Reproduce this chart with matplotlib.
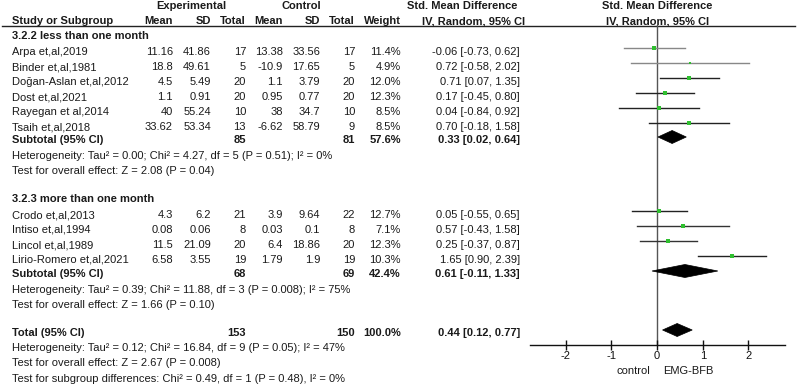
import matplotlib
matplotlib.use("Agg")
import matplotlib.pyplot as plt
from matplotlib.patches import Polygon

plt.rcParams['font.family'] = ['Liberation Sans', 'DejaVu Sans']
FS = 8.0

# ---------------- data ----------------
group1_label = "3.2.2 less than one month"
group1_studies = ["Arpa et,al,2019", "Binder et,al,1981", "Doğan-Aslan et,al,2012",
                  "Dost et,al,2021", "Rayegan et al,2014", "Tsaih et,al,2018"]
group1_exp_mean = [11.16, 18.8, 4.5, 1.1, 40, 33.62]
group1_exp_sd = [41.86, 49.61, 5.49, 0.91, 55.24, 53.34]
group1_exp_n = [17, 5, 20, 20, 10, 13]
group1_ctl_mean = [13.38, -10.9, 1.1, 0.95, 38, -6.62]
group1_ctl_sd = [33.56, 17.65, 3.79, 0.77, 34.7, 58.79]
group1_ctl_n = [17, 5, 20, 20, 10, 9]
group1_weight = [11.4, 4.9, 12.0, 12.3, 8.5, 8.5]
group1_smd = [-0.06, 0.72, 0.71, 0.17, 0.04, 0.70]
group1_lo = [-0.73, -0.58, 0.07, -0.45, -0.84, -0.18]
group1_hi = [0.62, 2.02, 1.35, 0.80, 0.92, 1.58]
group1_sub = dict(exp_n=85, ctl_n=81, weight=57.6, smd=0.33, lo=0.02, hi=0.64)
group1_het = "Heterogeneity: Tau² = 0.00; Chi² = 4.27, df = 5 (P = 0.51); I² = 0%"
group1_test = "Test for overall effect: Z = 2.08 (P = 0.04)"

group2_label = "3.2.3 more than one month"
group2_studies = ["Crodo et,al,2013", "Intiso et,al,1994", "Lincol et,al,1989",
                  "Lirio-Romero et,al,2021"]
group2_exp_mean = [4.3, 0.08, 11.5, 6.58]
group2_exp_sd = [6.2, 0.06, 21.09, 3.55]
group2_exp_n = [21, 8, 20, 19]
group2_ctl_mean = [3.9, 0.03, 6.4, 1.79]
group2_ctl_sd = [9.64, 0.1, 18.86, 1.9]
group2_ctl_n = [22, 8, 20, 19]
group2_weight = [12.7, 7.1, 12.3, 10.3]
group2_smd = [0.05, 0.57, 0.25, 1.65]
group2_lo = [-0.55, -0.43, -0.37, 0.90]
group2_hi = [0.65, 1.58, 0.87, 2.39]
group2_sub = dict(exp_n=68, ctl_n=69, weight=42.4, smd=0.61, lo=-0.11, hi=1.33)
group2_het = "Heterogeneity: Tau² = 0.39; Chi² = 11.88, df = 3 (P = 0.008); I² = 75%"
group2_test = "Test for overall effect: Z = 1.66 (P = 0.10)"

total = dict(exp_n=153, ctl_n=150, weight=100.0, smd=0.44, lo=0.12, hi=0.77)
total_het = "Heterogeneity: Tau² = 0.12; Chi² = 16.84, df = 9 (P = 0.05); I² = 47%"
total_test = "Test for overall effect: Z = 2.67 (P = 0.008)"
subgroup_test = "Test for subgroup differences: Chi² = 0.49, df = 1 (P = 0.48), I² = 0%"

x_ticks = [-2, -1, 0, 1, 2]
favours = ["control", "EMG-BFB"]

# ---------------- layout ----------------
W, H = 797, 387
fig = plt.figure(figsize=(W / 100, H / 100), dpi=100)
ax = fig.add_axes([0, 0, 1, 1])
ax.set_xlim(0, W)
ax.set_ylim(H, 0)
ax.axis('off')

X_STUDY = 12
X_EM, X_ESD, X_EN = 173, 211, 246
X_CM, X_CSD, X_CN = 283, 320, 355
X_W = 401
X_CI = 520

def t(x, y, s, ha='left', bold=False):
    ax.text(x, y, s, ha=ha, va='center', fontsize=FS,
            fontweight='bold' if bold else 'normal', color='#1a1a1a')

# headers
t(191, 6, "Experimental", ha='center', bold=True)
t(301, 6, "Control", ha='center', bold=True)
t(462, 6, "Std. Mean Difference", ha='center', bold=True)
t(657, 6, "Std. Mean Difference", ha='center', bold=True)
hy = 21
t(X_STUDY, hy, "Study or Subgroup", bold=True)
t(X_EM, hy, "Mean", ha='right', bold=True)
t(X_ESD, hy, "SD", ha='right', bold=True)
t(X_EN, hy, "Total", ha='right', bold=True)
t(X_CM, hy, "Mean", ha='right', bold=True)
t(X_CSD, hy, "SD", ha='right', bold=True)
t(X_CN, hy, "Total", ha='right', bold=True)
t(X_W, hy, "Weight", ha='right', bold=True)
t(X_CI + 5, hy, "IV, Random, 95% CI", ha='right', bold=True)
t(658, hy, "IV, Random, 95% CI", ha='center', bold=True)
ax.plot([2, 795], [25.5, 25.5], color='#222222', lw=1.0)

def ci_str(m, lo, hi):
    return f"{m:.2f} [{lo:.2f}, {hi:.2f}]"

# forest axes
FX0, FX1 = 530, 785
FY0, FY1 = 25, 345
fax = fig.add_axes([FX0 / W, (H - FY1) / H, (FX1 - FX0) / W, (FY1 - FY0) / H])
fax.set_xlim(-2.78, 2.80)
fax.set_ylim(FY1, FY0)
fax.patch.set_alpha(0)
for s in ['top', 'left', 'right']:
    fax.spines[s].set_visible(False)
fax.spines['bottom'].set_linewidth(1.0)
fax.spines['bottom'].set_color('#111111')
fax.set_yticks([])
fax.set_xticks(x_ticks)
fax.set_xticklabels([f"{v:g}" for v in x_ticks], fontsize=FS)
fax.tick_params(axis='x', direction='inout', length=7, width=1.0, pad=1, colors='#111111')
fax.axvline(0, color='#555555', lw=1.0, zorder=1)

def study_rows(names, em, esd, en, cm, csd, cn, w, smd, lo, hi, y0, line_colors):
    y = y0
    for i in range(len(names)):
        t(X_STUDY, y, names[i])
        t(X_EM, y, f"{em[i]:g}", ha='right')
        t(X_ESD, y, f"{esd[i]:g}", ha='right')
        t(X_EN, y, f"{en[i]}", ha='right')
        t(X_CM, y, f"{cm[i]:g}", ha='right')
        t(X_CSD, y, f"{csd[i]:g}", ha='right')
        t(X_CN, y, f"{cn[i]}", ha='right')
        t(X_W, y, f"{w[i]:.1f}%", ha='right')
        t(X_CI, y, ci_str(smd[i], lo[i], hi[i]), ha='right')
        fy = y - 4
        fax.plot([lo[i], hi[i]], [fy, fy], color=line_colors[i], lw=1.0, zorder=2)
        side_px = 1.35 * w[i] ** 0.5
        fax.plot([smd[i]], [fy], marker='s', ms=side_px * 0.72, color='#2fbf2f',
                 mec='#2fbf2f', mew=0, zorder=3)
        y += 15

def diamond(d, y):
    fy = y - 3
    h = 6.5
    poly = Polygon([[d['lo'], fy], [d['smd'], fy - h], [d['hi'], fy], [d['smd'], fy + h]],
                   closed=True, facecolor='black', edgecolor='black', lw=0.5, zorder=3)
    fax.add_patch(poly)

def subtotal_row(label, d, y):
    t(X_STUDY, y, label, bold=True)
    t(X_EN, y, f"{d['exp_n']}", ha='right', bold=True)
    t(X_CN, y, f"{d['ctl_n']}", ha='right', bold=True)
    t(X_W, y, f"{d['weight']:.1f}%", ha='right', bold=True)
    t(X_CI, y, ci_str(d['smd'], d['lo'], d['hi']), ha='right', bold=True)
    diamond(d, y)

# group 1
t(X_STUDY, 36, group1_label, bold=True)
study_rows(group1_studies, group1_exp_mean, group1_exp_sd, group1_exp_n,
           group1_ctl_mean, group1_ctl_sd, group1_ctl_n, group1_weight,
           group1_smd, group1_lo, group1_hi, 52,
           ['#888888', '#888888', '#222222', '#222222', '#222222', '#222222'])
subtotal_row("Subtotal (95% CI)", group1_sub, 140)
t(X_STUDY, 156, group1_het)
t(X_STUDY, 171, group1_test)

# group 2
t(X_STUDY, 199, group2_label, bold=True)
study_rows(group2_studies, group2_exp_mean, group2_exp_sd, group2_exp_n,
           group2_ctl_mean, group2_ctl_sd, group2_ctl_n, group2_weight,
           group2_smd, group2_lo, group2_hi, 215,
           ['#222222', '#333333', '#333333', '#222222'])
subtotal_row("Subtotal (95% CI)", group2_sub, 274)
t(X_STUDY, 290, group2_het)
t(X_STUDY, 305, group2_test)

# total
subtotal_row("Total (95% CI)", total, 333)
t(X_STUDY, 348, total_het)
t(X_STUDY, 363, total_test)
t(X_STUDY, 379, subgroup_test)

# favours labels
t(633, 371, favours[0], ha='center')
t(688, 371, favours[1], ha='center')

fig.savefig("out.png", dpi=100)
